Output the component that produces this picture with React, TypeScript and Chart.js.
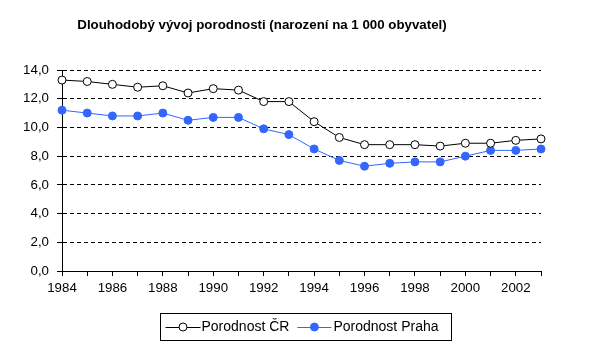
import React, { useEffect, useRef } from "react";
import { Chart, registerables } from "chart.js";

Chart.register(...registerables);

const years = ["1984","1985","1986","1987","1988","1989","1990","1991","1992","1993","1994","1995","1996","1997","1998","1999","2000","2001","2002","2003"];
const crValues = [13.3, 13.2, 13.0, 12.8, 12.9, 12.4, 12.7, 12.6, 11.8, 11.8, 10.4, 9.3, 8.8, 8.8, 8.8, 8.7, 8.9, 8.9, 9.1, 9.2];
const prahaValues = [11.2, 11.0, 10.8, 10.8, 11.0, 10.5, 10.7, 10.7, 9.9, 9.5, 8.5, 7.7, 7.3, 7.5, 7.6, 7.6, 8.0, 8.4, 8.4, 8.5];
const seriesNames = ["Porodnost ČR", "Porodnost Praha"];
const titleText = "Dlouhodobý vývoj porodnosti (narození na 1 000 obyvatel)";

const FONT = "Arial, 'Liberation Sans', sans-serif";
const BLUE = "#3366ff";

const titlePlugin = {
  id: "customTitle",
  afterDraw(chart: any) {
    const ctx = chart.ctx;
    ctx.save();
    ctx.font = `bold 13.3px ${FONT}`;
    ctx.fillStyle = "#000";
    ctx.textAlign = "center";
    ctx.textBaseline = "middle";
    ctx.fillText(titleText, 262, 25);
    ctx.restore();
  },
};

const legendPlugin = {
  id: "customLegend",
  afterDraw(chart: any) {
    const ctx = chart.ctx;
    ctx.save();
    ctx.font = `14px ${FONT}`;
    const w1 = ctx.measureText(seriesNames[0]).width;
    const w2 = ctx.measureText(seriesNames[1]).width;
    const padL = 5, sample1 = 35, sample2 = 34, gap1 = 1, gap2 = 2, between = 8, padR = 13;
    const total = padL + sample1 + gap1 + w1 + between + sample2 + gap2 + w2 + padR;
    const cx = 305.5;
    const left = Math.round(cx - total / 2) + 0.5;
    const top = 313.5;
    const h = 27;
    ctx.strokeStyle = "#000";
    ctx.lineWidth = 1;
    ctx.strokeRect(left, top, Math.round(total), h);
    const cy = top + h / 2;
    const drawItem = (x: number, sample: number, gap: number, color: string, fill: string, text: string) => {
      ctx.strokeStyle = color;
      ctx.lineWidth = 1;
      ctx.beginPath();
      ctx.moveTo(x, Math.round(cy) + 0.5);
      ctx.lineTo(x + sample, Math.round(cy) + 0.5);
      ctx.stroke();
      ctx.beginPath();
      ctx.arc(x + sample / 2, cy, 4, 0, Math.PI * 2);
      ctx.fillStyle = fill;
      ctx.fill();
      ctx.stroke();
      ctx.fillStyle = "#000";
      ctx.textAlign = "left";
      ctx.textBaseline = "middle";
      ctx.fillText(text, x + sample + gap, cy);
    };
    let x = left + padL;
    drawItem(x, sample1, gap1, "#000", "#fff", seriesNames[0]);
    x += sample1 + gap1 + w1 + between;
    drawItem(x, sample2, gap2, BLUE, BLUE, seriesNames[1]);
    ctx.restore();
  },
};

export default function App() {
  const ref = useRef<HTMLCanvasElement | null>(null);
  useEffect(() => {
    document.body.style.margin = "0";
    const canvas = ref.current;
    if (!canvas) return;
    const chart = new Chart(canvas, {
      type: "line",
      data: {
        labels: years,
        datasets: [
          {
            label: seriesNames[0],
            data: crValues,
            borderColor: "#000",
            borderWidth: 1,
            backgroundColor: "#fff",
            pointBackgroundColor: "#fff",
            pointBorderColor: "#000",
            pointBorderWidth: 1,
            pointRadius: 4,
            tension: 0,
          },
          {
            label: seriesNames[1],
            data: prahaValues,
            borderColor: BLUE,
            borderWidth: 1,
            backgroundColor: BLUE,
            pointBackgroundColor: BLUE,
            pointBorderColor: BLUE,
            pointBorderWidth: 1,
            pointRadius: 4,
            tension: 0,
          },
        ],
      },
      options: {
        responsive: false,
        animation: false,
        layout: { padding: { left: 0, right: 59, top: 70, bottom: 68 } },
        plugins: {
          legend: { display: false },
          title: { display: false },
          tooltip: { enabled: false },
        },
        scales: {
          x: {
            type: "category",
            offset: false,
            afterFit: (scale: any) => { scale.height = 25; },
            grid: {
              drawOnChartArea: false,
              drawTicks: true,
              tickLength: 5,
              color: "#000",
              tickColor: "#000",
            },
            border: { display: true, color: "#000", width: 1 },
            ticks: {
              autoSkip: false,
              maxRotation: 0,
              padding: 4,
              color: "#000",
              font: { family: FONT, size: 13.3 },
              callback: (_v: any, i: number) => (i % 2 === 0 ? years[i] : ""),
            },
          },
          y: {
            min: 0,
            max: 14,
            afterFit: (scale: any) => { scale.width = 62; },
            grid: {
              color: "#000",
              tickColor: "#000",
              tickLength: 5,
              tickBorderDash: [],
              lineWidth: 1,
            },
            border: { display: true, color: "#000", width: 1, dash: [4, 3] },
            ticks: {
              stepSize: 2,
              padding: 8,
              color: "#000",
              font: { family: FONT, size: 13.3 },
              callback: (v: any) => Number(v).toFixed(1).replace(".", ","),
            },
          },
        },
      },
      plugins: [titlePlugin, legendPlugin],
    });
    return () => chart.destroy();
  }, []);
  return (
    <div style={{ width: 600, height: 364 }}>
      <canvas ref={ref} width={600} height={364} />
    </div>
  );
}
